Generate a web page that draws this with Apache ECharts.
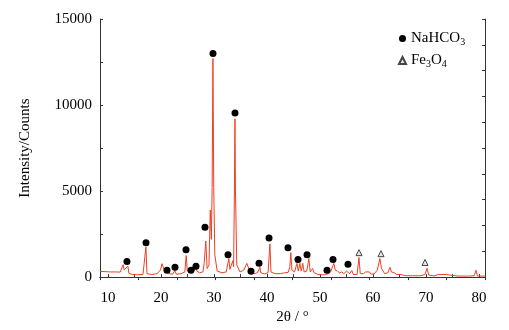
<!DOCTYPE html>
<html>
<head>
<meta charset="utf-8">
<script src="https://cdn.jsdelivr.net/npm/echarts@6/dist/echarts.min.js"></script>
<style>
    html, body {margin: 0; background: #fff;}
    #xrd {width: 509px; height: 330px;}
</style>
</head>
<body>
<div id="xrd"></div>
<script>
    // 2θ 轴标签 / 刻度
    var xLabels = [10, 20, 30, 40, 50, 60, 70, 80];
    var xTicks = [10, 15, 20, 25, 30, 35, 40, 45, 50, 55, 60, 65, 70, 75, 80];
    var yLabels = [0, 5000, 10000, 15000];

    // XRD 曲线 [2θ, 强度]
    var pattern = [
        [8.5, 330], [9.5, 320], [10.5, 300], [11.5, 300], [12.3, 290], [12.6, 400], [12.85, 720], [13.05, 420],
        [13.4, 330], [13.75, 640], [13.95, 220], [14.6, 150], [15.6, 140], [16.6, 150], [16.95, 220], [17.15, 1750],
        [17.35, 200], [18.3, 150], [19.3, 200], [19.9, 420], [20.2, 780], [20.5, 500], [20.9, 250], [21.2, 380],
        [21.5, 200], [22.2, 170], [22.6, 380], [22.9, 170], [23.8, 200], [24.5, 300], [24.75, 1250], [24.95, 400],
        [25.3, 250], [25.6, 300], [25.9, 500], [26.1, 300], [26.5, 550], [26.8, 350], [27.3, 250], [27.9, 300],
        [28.15, 800], [28.45, 2100], [28.7, 500], [29.05, 700], [29.3, 3900], [29.5, 2200], [29.65, 5200], [29.8, 12700],
        [29.95, 5200], [30.15, 1300], [30.6, 350], [31.5, 250], [32.3, 300], [32.55, 700], [32.8, 1080], [33.0, 450],
        [33.35, 500], [33.55, 950], [33.7, 600], [33.85, 5000], [33.95, 9200], [34.05, 5000], [34.3, 700], [34.9, 300],
        [35.6, 400], [36.2, 800], [36.6, 450], [37.1, 220], [37.8, 200], [38.3, 300], [38.65, 570], [38.85, 250],
        [39.6, 180], [40.2, 260], [40.55, 1930], [40.75, 300], [41.5, 200], [42.5, 200], [43.3, 250], [44.0, 280],
        [44.3, 600], [44.5, 1420], [44.7, 400], [45.2, 300], [45.65, 800], [45.9, 350], [46.2, 800], [46.45, 350],
        [46.75, 800], [47.0, 300], [47.5, 350], [47.9, 1080], [48.15, 300], [48.6, 500], [48.9, 250], [49.6, 150],
        [50.4, 130], [51.0, 140], [51.6, 200], [52.0, 300], [52.6, 800], [52.9, 400], [53.3, 350], [53.7, 250],
        [54.1, 300], [54.5, 200], [55.0, 350], [55.3, 420], [55.6, 200], [56.0, 380], [56.3, 150], [57.0, 150],
        [57.35, 1140], [57.6, 200], [58.2, 200], [58.6, 300], [58.9, 200], [59.3, 300], [59.6, 180], [60.2, 180],
        [60.8, 400], [61.3, 1080], [61.6, 500], [62.2, 200], [62.8, 250], [63.2, 570], [63.5, 300], [64.0, 250],
        [64.5, 150], [65.3, 150], [66.0, 80], [67.5, 80], [69.0, 80], [69.8, 150], [70.2, 510], [70.5, 120],
        [71.5, 70], [72.3, 150], [72.6, 60], [73.8, 150], [74.1, 60], [76, 60], [78, 60], [79.1, 80],
        [79.45, 400], [79.7, 60], [81.1, 60]
    ];

    // 物相标记
    var nahco3Peaks = [
        [13.58, 910], [17.17, 1990], [21.13, 400], [22.64, 570], [24.72, 1590], [25.66, 400], [26.6, 625],
        [28.3, 2900], [29.81, 13000], [32.64, 1300], [33.96, 9540], [36.98, 340], [38.49, 800], [40.38, 2270],
        [43.96, 1700], [45.85, 1020], [47.55, 1300], [51.32, 400], [52.45, 1020], [55.28, 740]
    ];
    var fe3o4Peaks = [[57.36, 1420], [61.51, 1360], [69.81, 850]];

    var font = 'Liberation Serif';
    var axisColor = '#333';
    var chartDom = document.getElementById('xrd');
    var myChart = echarts.init(chartDom);
    var option;

    option = {
        animation: false,
        textStyle: {fontFamily: font},
        grid: {left: 100, right: 24, top: 19, bottom: 48},
        legend: {
            orient: 'vertical',
            left: 398,
            top: 31,
            padding: 0,
            itemWidth: 7,
            itemHeight: 7,
            itemGap: 6,
            data: ['NaHCO3', 'Fe3O4'],
            formatter: function (name) {
                return name === 'NaHCO3' ? '{t|NaHCO}{s|3}' : '{t|Fe}{s|3}{t|O}{s|4}';
            },
            textStyle: {
                fontFamily: font,
                rich: {
                    t: {fontFamily: font, fontSize: 15, color: '#000'},
                    s: {fontFamily: font, fontSize: 10, color: '#000', padding: [7, 0, 0, 0]}
                }
            }
        },
        xAxis: [{
            type: 'value',
            min: 8.49,
            max: 81.13,
            position: 'bottom',
            name: '2θ / °',
            nameLocation: 'middle',
            nameGap: 29,
            nameTextStyle: {fontFamily: font, fontSize: 15, color: '#000'},
            axisLine: {show: true, lineStyle: {color: axisColor}},
            axisTick: {show: true, inside: true, length: 3, customValues: xTicks, lineStyle: {color: axisColor}},
            axisLabel: {customValues: xLabels, margin: 13, fontFamily: font, fontSize: 15, color: '#000'},
            splitLine: {show: false}
        }, {
            type: 'value',
            min: 0,
            max: 10,
            interval: 1,
            position: 'top',
            axisLine: {show: true, lineStyle: {color: axisColor}},
            axisTick: {show: true, inside: true, length: 3, lineStyle: {color: axisColor}},
            axisLabel: {show: false},
            splitLine: {show: false}
        }],
        yAxis: [{
            type: 'value',
            min: 0,
            max: 15000,
            interval: 5000,
            position: 'left',
            name: 'Intensity/Counts',
            nameLocation: 'middle',
            nameGap: 67,
            nameTextStyle: {fontFamily: font, fontSize: 15, color: '#000'},
            axisLine: {show: true, lineStyle: {color: axisColor}},
            axisTick: {show: true, inside: true, length: 3, lineStyle: {color: axisColor}},
            minorTick: {show: true, splitNumber: 2, length: 3, lineStyle: {color: axisColor}},
            axisLabel: {
                customValues: yLabels, margin: 8, fontFamily: font, fontSize: 15, color: '#000',
                formatter: function (v) {
                    return String(v);
                }
            },
            splitLine: {show: false}
        }, {
            type: 'value',
            min: 0,
            max: 10,
            interval: 1,
            position: 'right',
            axisLine: {show: true, lineStyle: {color: axisColor}},
            axisTick: {show: true, inside: true, length: 3, lineStyle: {color: axisColor}},
            axisLabel: {show: false},
            splitLine: {show: false}
        }],
        series: [{
            name: 'XRD',
            type: 'line',
            data: pattern,
            showSymbol: false,
            lineStyle: {color: '#ee4025', width: 1},
            z: 2
        }, {
            name: 'NaHCO3',
            type: 'scatter',
            data: nahco3Peaks,
            symbol: 'circle',
            symbolSize: 7,
            itemStyle: {color: '#000', opacity: 1},
            z: 3
        }, {
            name: 'Fe3O4',
            type: 'scatter',
            data: fe3o4Peaks,
            symbol: 'triangle',
            symbolSize: 6,
            itemStyle: {color: '#e6e6e6', borderColor: '#444', borderWidth: 1, opacity: 1},
            z: 3
        }]
    };

    option && myChart.setOption(option);
</script>
</body>
</html>
